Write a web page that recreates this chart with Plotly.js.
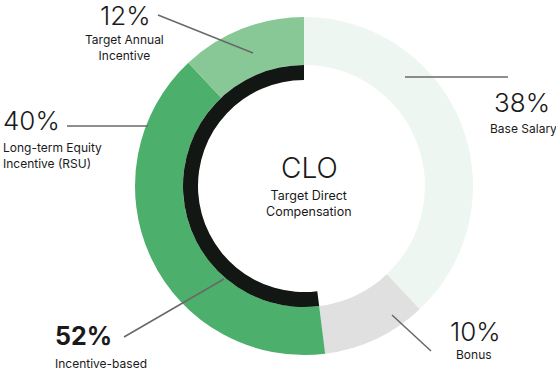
<!DOCTYPE html>
<html>
<head>
<meta charset="utf-8">
<script src="https://cdn.plot.ly/plotly-3.0.1.min.js"></script>
<style>html,body{margin:0;padding:0;background:#fff;}#chart{width:556px;height:372px;}</style>
</head>
<body>
<div id="chart"></div>
<script>
// ---- data ----
const sliceLabels = ["Base Salary", "Bonus", "Long-term Equity Incentive (RSU)", "Target Annual Incentive"];
const sliceValues = [38, 10, 40, 12];
const sliceColors = ["#edf6f0", "#e0e0e0", "#4cb06c", "#87c896"];
const groupLabels = ["Fixed", "Incentive-based"];
const groupValues = [48, 52];
const groupColors = ["rgba(0,0,0,0)", "#131713"];
const centerTitle = "CLO";
const centerSubtitle = "Target Direct<br>Compensation";
const pctLabels = ["38%", "10%", "40%", "12%"];
const nameLabels = ["Base Salary", "Bonus", "Long-term Equity<br>Incentive (RSU)", "Target Annual<br>Incentive"];
const groupPct = "52%";
const groupName = "Incentive-based";

// ---- layout helpers ----
const W = 556, H = 372;
const cx = 304, cy = 186;
const R1 = 169, R1in = 121, R2 = 121, R2in = 106;
const px = x => x / W;
const py = y => 1 - y / H;
function dom(r) {
  return { x: [px(cx - r), px(cx + r)], y: [py(cy + r), py(cy - r)] };
}

const FONT = "Inter, 'Noto Sans', Arial, sans-serif";
const TXT = "#1a1a1a";

const traces = [
  {
    type: "pie", labels: sliceLabels, values: sliceValues, sort: false,
    direction: "clockwise", rotation: 0, hole: R1in / R1,
    marker: { colors: sliceColors, line: { width: 0 } },
    textinfo: "none", hoverinfo: "none", showlegend: false, domain: dom(R1)
  },
  {
    type: "pie", labels: groupLabels, values: groupValues, sort: false,
    direction: "clockwise", rotation: 0, hole: R2in / R2,
    marker: { colors: groupColors, line: { width: 0 } },
    textinfo: "none", hoverinfo: "none", showlegend: false, domain: dom(R2)
  }
];

function big(text, x, y, anchor, weight, size) {
  return { text: text, x: px(x), y: py(y), xref: "paper", yref: "paper",
    xanchor: anchor, yanchor: "middle", showarrow: false,
    font: { family: FONT, size: size || 26, color: TXT, weight: weight || 300 } };
}
function small(text, x, y, anchor) {
  return { text: text, x: px(x), y: py(y), xref: "paper", yref: "paper",
    xanchor: anchor, yanchor: "middle", showarrow: false, align: anchor === "left" ? "left" : "center",
    font: { family: FONT, size: 12, color: TXT, weight: 400 } };
}

const annotations = [
  big(pctLabels[3], 125, 16, "center"),
  small(nameLabels[3], 124, 47, "center"),
  big(pctLabels[2], 1, 121, "left"),
  small(nameLabels[2], 1, 155, "left"),
  big(pctLabels[0], 522, 103, "center"),
  small(nameLabels[0], 523, 128, "center"),
  big(pctLabels[1], 475, 331, "center"),
  small(nameLabels[1], 474, 354, "center"),
  big(groupPct, 53, 336, "left", 700, 25),
  small(groupName, 53, 363, "left"),
  { text: centerTitle, x: px(309), y: py(168), xref: "paper", yref: "paper",
    xanchor: "center", yanchor: "middle", showarrow: false,
    font: { family: FONT, size: 28, color: TXT, weight: 300 } },
  { text: centerSubtitle, x: px(309), y: py(204), xref: "paper", yref: "paper",
    xanchor: "center", yanchor: "middle", showarrow: false, align: "center",
    font: { family: FONT, size: 12.5, color: TXT, weight: 400 } }
];

function seg(x0, y0, x1, y1) {
  return { type: "line", xref: "paper", yref: "paper",
    x0: px(x0), y0: py(y0), x1: px(x1), y1: py(y1),
    line: { color: "#686868", width: 1.5 }, layer: "above" };
}
const shapes = [
  seg(158, 15, 253, 53),
  seg(67, 126, 148, 126),
  seg(405, 77, 508, 77),
  seg(392, 315, 431, 351),
  seg(224, 279, 124, 337)
];

Plotly.newPlot("chart", traces, {
  width: W, height: H, margin: { l: 0, r: 0, t: 0, b: 0 },
  paper_bgcolor: "#ffffff", plot_bgcolor: "#ffffff",
  annotations: annotations, shapes: shapes, showlegend: false
}, { displayModeBar: false, staticPlot: true });
</script>
</body>
</html>
